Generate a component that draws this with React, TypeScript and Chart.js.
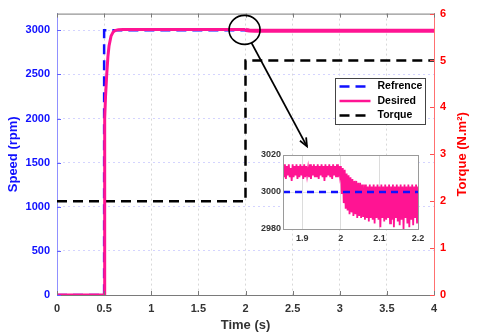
import React, { useEffect, useRef } from 'react';
import { Chart, registerables } from 'chart.js';
Chart.register(...registerables);

const FONT = "'Liberation Sans', Arial, sans-serif";

// ---------- main chart data ----------
const timeTicks = [0, 0.5, 1, 1.5, 2, 2.5, 3, 3.5, 4];
const speedTicks = [0, 500, 1000, 1500, 2000, 2500, 3000];
const torqueTicks = [0, 1, 2, 3, 4, 5, 6];

const refTime = [0, 0.5, 0.5, 4];
const refSpeed = [0, 0, 3000, 3000];

const desTime = [0, 0.5, 0.503, 0.506, 0.509, 0.515, 0.527, 0.54, 0.552, 0.573, 0.595, 0.615, 0.65, 0.7, 2.0, 2.01, 2.04, 2.1, 4];
const desSpeed = [0, 0, 700, 1400, 2000, 2250, 2490, 2700, 2823, 2934, 2980, 2998, 3008, 3011, 3011, 3004, 2998, 2996, 2996];

const torqueTime = [0, 2, 2, 4];
const torqueVal = [2, 2, 5, 5];

const seriesLabels = ['Refrence', 'Desired', 'Torque'];

// ---------- inset data ----------
const insetStart = 1.85;
const insetStep = 0.0025;
const insetBefore = [
  3014, 3008, 3015, 3007, 3014, 3009, 3015, 3008, 3013, 3006,
  3015, 3008, 3014, 3009, 3015, 3007, 3014, 3008, 3015, 3009,
  3014, 3007, 3015, 3008, 3014, 3009, 3013, 3008, 3015, 3007,
  3014, 3009, 3015, 3008, 3014, 3008, 3015, 3007, 3014, 3009,
  3015, 3008, 3014, 3006, 3015, 3008, 3014, 3009, 3015, 3008,
  3014, 3007, 3015, 3009, 3014, 3008, 3015, 3008, 3014, 3009,
];
const insetAfter = [
  3014, 2999, 3013, 2994, 3012, 2991, 3010, 2990, 3009, 2988,
  3008, 2989, 3007, 2987, 3006, 2988, 3006, 2986, 3005, 2987,
  3005, 2986, 3004, 2987, 3004, 2985, 3004, 2986, 3003, 2984,
  3004, 2986, 3003, 2985, 3004, 2983, 3003, 2986, 3004, 2985,
  3003, 2981, 3004, 2986, 3003, 2984, 3004, 2985, 3003, 2986,
  3004, 2983, 3003, 2985, 3004, 2981, 3003, 2986, 3004, 2984,
  3003, 2982, 3004, 2985, 3003, 2980, 3004, 2986, 3003, 2983,
  3004, 2981, 3003, 2985, 3004, 2982, 3003, 2986, 3004, 2983,
  3003,
];
const insetRefTime = [1.85, 2.2];
const insetRefSpeed = [3000, 3000];
const insetTimeTicks = [1.9, 2, 2.1, 2.2];
const insetSpeedTicks = [2980, 3000, 3020];

// annotation anchors (data coordinates)
const circleAt = { x: 1.99, y: 3005 };
const arrowTip = { x: 2.652, y: 3.17 };

const BLUE = '#1010ff';
const RED = '#ff0000';
const PINK = '#ff1493';
const GRAY = '#333333';

const pts = (xs: number[], ys: number[]) => xs.map((x, i) => ({ x, y: ys[i] }));
const fixTicks = (vals: number[]) => (s: any) => {
  s.ticks = vals.map((v) => ({ value: v }));
};

const mainPlugin = {
  id: 'mainDecor',
  afterDraw(chart: any) {
    const { ctx, chartArea, scales } = chart;
    const { left, right, top, bottom } = chartArea;
    ctx.save();
    // top border
    ctx.strokeStyle = '#7a7a7a';
    ctx.lineWidth = 1;
    ctx.beginPath();
    ctx.moveTo(left, top + 0.5);
    ctx.lineTo(right, top + 0.5);
    ctx.stroke();
    // inward ticks
    timeTicks.forEach((v) => {
      const px = Math.round(scales.x.getPixelForValue(v)) + 0.5;
      ctx.beginPath();
      ctx.moveTo(px, bottom);
      ctx.lineTo(px, bottom - 4);
      ctx.moveTo(px, top);
      ctx.lineTo(px, top + 4);
      ctx.stroke();
    });
    ctx.strokeStyle = '#6060ff';
    speedTicks.forEach((v) => {
      const py = Math.round(scales.y.getPixelForValue(v)) + 0.5;
      ctx.beginPath();
      ctx.moveTo(left, py);
      ctx.lineTo(left + 4, py);
      ctx.stroke();
    });
    ctx.strokeStyle = '#ff5050';
    torqueTicks.forEach((v) => {
      const py = Math.round(scales.y1.getPixelForValue(v)) + 0.5;
      ctx.beginPath();
      ctx.moveTo(right, py);
      ctx.lineTo(right - 4, py);
      ctx.stroke();
    });
    // right title (reads bottom to top)
    ctx.save();
    ctx.translate(right + 28, (top + bottom) / 2);
    ctx.rotate(-Math.PI / 2);
    ctx.fillStyle = RED;
    ctx.font = `bold 13px ${FONT}`;
    ctx.textAlign = 'center';
    ctx.textBaseline = 'middle';
    ctx.fillText('Torque (N.m\u00B2)', 0, 0);
    ctx.restore();

    // circle + arrow
    const cx = scales.x.getPixelForValue(circleAt.x);
    const cy = scales.y.getPixelForValue(circleAt.y);
    const rx = 15.5, ry = 14.5;
    ctx.strokeStyle = '#000';
    ctx.lineWidth = 1.6;
    ctx.beginPath();
    ctx.ellipse(cx, cy, rx, ry, 0, 0, Math.PI * 2);
    ctx.stroke();
    const tx = scales.x.getPixelForValue(arrowTip.x);
    const ty = scales.y1.getPixelForValue(arrowTip.y);
    const t = Math.atan2((ty - cy) / ry, (tx - cx) / rx);
    const sx = cx + rx * Math.cos(t);
    const sy = cy + ry * Math.sin(t);
    ctx.lineWidth = 1.8;
    ctx.beginPath();
    ctx.moveTo(sx, sy);
    ctx.lineTo(tx, ty);
    ctx.stroke();
    const ang = Math.atan2(ty - sy, tx - sx);
    const hl = 9;
    ctx.beginPath();
    ctx.moveTo(tx - hl * Math.cos(ang - 0.4), ty - hl * Math.sin(ang - 0.4));
    ctx.lineTo(tx, ty);
    ctx.lineTo(tx - hl * Math.cos(ang + 0.4), ty - hl * Math.sin(ang + 0.4));
    ctx.stroke();

    // legend
    const bw = 90, bh = 46;
    const bx = Math.round(right - 9 - bw) + 0.5;
    const by = Math.round(top + 64) + 0.5;
    ctx.fillStyle = '#fff';
    ctx.fillRect(bx, by, bw, bh);
    ctx.strokeStyle = '#444';
    ctx.lineWidth = 1;
    ctx.strokeRect(bx, by, bw, bh);
    const rows = [8, 22.5, 37];
    chart.data.datasets.forEach((ds: any, i: number) => {
      const yy = by + rows[i];
      ctx.save();
      ctx.strokeStyle = ds.borderColor;
      ctx.lineWidth = 2.5;
      ctx.setLineDash(ds.borderDash || []);
      ctx.beginPath();
      ctx.moveTo(bx + 4, yy);
      ctx.lineTo(bx + 35, yy);
      ctx.stroke();
      ctx.restore();
      ctx.fillStyle = '#000';
      ctx.font = `bold 10.5px ${FONT}`;
      ctx.textAlign = 'left';
      ctx.textBaseline = 'middle';
      ctx.fillText(ds.label, bx + 42, yy);
    });
    ctx.restore();
  },
};

const insetPlugin = {
  id: 'insetDecor',
  beforeDraw(chart: any) {
    const { ctx, chartArea } = chart;
    ctx.save();
    ctx.fillStyle = '#fff';
    ctx.fillRect(chartArea.left, chartArea.top, chartArea.right - chartArea.left, chartArea.bottom - chartArea.top);
    ctx.restore();
  },
  afterDraw(chart: any) {
    const { ctx, chartArea } = chart;
    ctx.save();
    ctx.strokeStyle = '#9a9a9a';
    ctx.lineWidth = 1;
    ctx.strokeRect(Math.round(chartArea.left) + 0.5, Math.round(chartArea.top) + 0.5,
      Math.round(chartArea.right - chartArea.left), Math.round(chartArea.bottom - chartArea.top));
    ctx.restore();
  },
};

export default function App() {
  const mainRef = useRef<HTMLCanvasElement>(null);
  const insetRef = useRef<HTMLCanvasElement>(null);

  useEffect(() => {
    const tickFont = { family: FONT, size: 11, weight: 'bold' as const };
    const titleFont = { family: FONT, size: 13, weight: 'bold' as const };
    const main = new Chart(mainRef.current!, {
      type: 'line',
      data: {
        datasets: [
          {
            label: seriesLabels[0],
            data: pts(refTime, refSpeed),
            borderColor: BLUE,
            borderDash: [10, 6],
            borderWidth: 2.5,
            pointRadius: 0,
            yAxisID: 'y',
            order: 1,
          },
          {
            label: seriesLabels[1],
            data: pts(desTime, desSpeed),
            borderColor: PINK,
            borderWidth: 3,
            pointRadius: 0,
            yAxisID: 'y',
            order: 0,
            segment: { borderWidth: (c: any) => (c.p0.parsed.x >= 2 ? 4 : 3) },
          },
          {
            label: seriesLabels[2],
            data: pts(torqueTime, torqueVal),
            borderColor: '#000',
            borderDash: [10, 6],
            borderWidth: 2.5,
            pointRadius: 0,
            yAxisID: 'y1',
            order: 2,
          },
        ] as any,
      },
      options: {
        animation: false,
        responsive: false,
        devicePixelRatio: 1,
        layout: { padding: { top: 7, left: 0, right: 0, bottom: 0 } },
        plugins: { legend: { display: false }, tooltip: { enabled: false } },
        scales: {
          x: {
            type: 'linear',
            min: 0,
            max: 4,
            afterBuildTicks: fixTicks(timeTicks),
            afterFit: (s: any) => { s.height = 39; },
            grid: { color: '#d8d8d8', drawTicks: false, lineWidth: 1 },
            border: { color: '#7a7a7a', width: 1, dash: [2, 3] },
            ticks: { padding: 7, color: GRAY, font: tickFont, callback: (v: any) => String(v), maxRotation: 0 },
            title: { display: true, text: 'Time (s)', color: GRAY, font: titleFont, padding: { top: 0, bottom: 1 } },
          },
          y: {
            type: 'linear',
            position: 'left',
            min: 0,
            max: 3190,
            afterBuildTicks: fixTicks(speedTicks),
            afterFit: (s: any) => { s.width = 57; },
            grid: { color: '#d4d4ff', drawTicks: false, lineWidth: 1 },
            border: { color: '#9090ff', width: 1, dash: [2, 3] },
            ticks: { padding: 7, color: BLUE, font: tickFont, callback: (v: any) => String(v) },
            title: { display: true, text: 'Speed (rpm)', color: BLUE, font: titleFont, padding: { top: 6, bottom: 0 } },
          },
          y1: {
            type: 'linear',
            position: 'right',
            min: 0,
            max: 6,
            afterBuildTicks: fixTicks(torqueTicks),
            afterFit: (s: any) => { s.width = 46; },
            grid: { drawOnChartArea: false, drawTicks: false },
            border: { color: '#ff7070', width: 1 },
            ticks: { padding: 6, color: RED, font: tickFont, callback: (v: any) => String(v) },
            title: { display: false },
          },
        },
      } as any,
      plugins: [mainPlugin],
    });

    const insetFont = { family: FONT, size: 9, weight: 'bold' as const };
    const inset = new Chart(insetRef.current!, {
      type: 'line',
      data: {
        datasets: [
          {
            label: 'Desired',
            data: [...insetBefore, ...insetAfter].map((v, i) => ({ x: insetStart + i * insetStep, y: v })),
            borderColor: PINK,
            borderWidth: 1.8,
            pointRadius: 0,
            order: 1,
          },
          {
            label: 'Refrence',
            data: pts(insetRefTime, insetRefSpeed),
            borderColor: BLUE,
            borderDash: [7, 5],
            borderWidth: 2.5,
            pointRadius: 0,
            order: 0,
          },
        ],
      },
      options: {
        animation: false,
        responsive: false,
        devicePixelRatio: 1,
        layout: { padding: { top: 10, right: 12, left: 0, bottom: 0 } },
        plugins: { legend: { display: false }, tooltip: { enabled: false } },
        scales: {
          x: {
            type: 'linear',
            min: 1.85,
            max: 2.2,
            afterBuildTicks: fixTicks(insetTimeTicks),
            afterFit: (s: any) => { s.height = 21; },
            grid: { color: '#dcdcdc', drawTicks: false },
            border: { color: '#9a9a9a' },
            ticks: { padding: 4, color: GRAY, font: insetFont, callback: (v: any) => String(v), maxRotation: 0 },
          },
          y: {
            type: 'linear',
            min: 2980,
            max: 3020,
            afterBuildTicks: fixTicks(insetSpeedTicks),
            afterFit: (s: any) => { s.width = 33; },
            grid: { color: '#e4e4e4', drawTicks: false },
            border: { color: '#9a9a9a' },
            ticks: { padding: 2, color: GRAY, font: insetFont, callback: (v: any) => String(v) },
          },
        },
      } as any,
      plugins: [insetPlugin],
    });

    return () => {
      main.destroy();
      inset.destroy();
    };
  }, []);

  return (
    <div style={{ position: 'absolute', left: 0, top: 0, width: 480, height: 334, background: '#fff' }}>
      <canvas ref={mainRef} width={480} height={334} style={{ position: 'absolute', left: 0, top: 0 }} />
      <canvas ref={insetRef} width={180} height={105} style={{ position: 'absolute', left: 250, top: 145 }} />
    </div>
  );
}
